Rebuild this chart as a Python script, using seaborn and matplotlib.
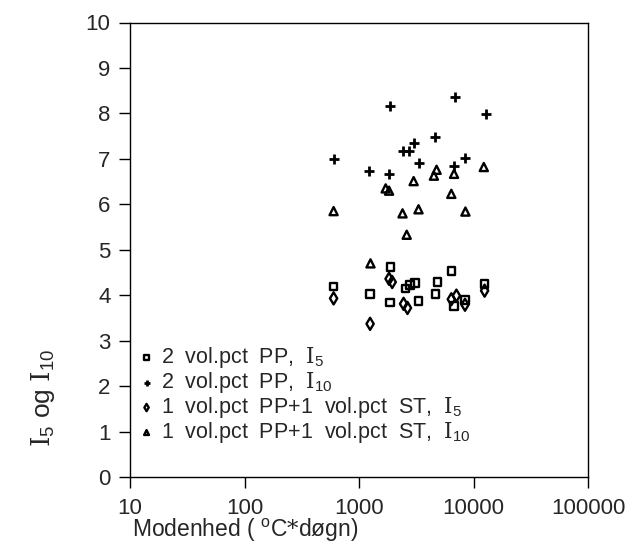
import numpy as np
import pandas as pd
import matplotlib
matplotlib.use("Agg")
import matplotlib.pyplot as plt
import seaborn as sns

# ---- data ----
pp2_i5_x = [600, 1250, 1890, 1870, 2540, 2780, 3100, 3310, 4850, 4650, 6440, 6760, 8430, 12500]
pp2_i5_y = [4.19, 4.02, 4.62, 3.84, 4.15, 4.23, 4.27, 3.87, 4.29, 4.02, 4.53, 3.76, 3.90, 4.24]

pp2_i10_x = [600, 1230, 1880, 1830, 2400, 2730, 3020, 3370, 4610, 6900, 6760, 8490, 12800]
pp2_i10_y = [7.00, 6.74, 8.17, 6.66, 7.17, 7.17, 7.34, 6.90, 7.49, 8.35, 6.85, 7.01, 7.99]

mix_i5_x = [600, 1250, 1830, 1950, 2450, 2650, 6400, 7090, 8430, 12500]
mix_i5_y = [3.93, 3.37, 4.36, 4.29, 3.81, 3.72, 3.91, 3.99, 3.79, 4.10]

mix_i10_x = [600, 1260, 1710, 1830, 2400, 2610, 3000, 3310, 4510, 4760, 6400, 6760, 8500, 12300]
mix_i10_y = [5.85, 4.70, 6.35, 6.30, 5.80, 5.33, 6.51, 5.89, 6.63, 6.76, 6.23, 6.67, 5.84, 6.82]

labels = [
    r"2  vol.pct  PP,  $\mathrm{I}_{\mathsf{5}}$",
    r"2  vol.pct  PP,  $\mathrm{I}_{\mathsf{10}}$",
    r"1  vol.pct  PP+1  vol.pct  ST,  $\mathrm{I}_{\mathsf{5}}$",
    r"1  vol.pct  PP+1  vol.pct  ST,  $\mathrm{I}_{\mathsf{10}}$",
]
x_ticks = [10, 100, 1000, 10000, 100000]
x_ticklabels = ["10", "100", "1000", "10000", "100000"]
y_ticks = list(range(0, 11))

sns.set_style("white")
plt.rcParams["font.family"] = ["Liberation Sans", "DejaVu Sans"]
plt.rcParams["mathtext.fontset"] = "custom"
plt.rcParams["mathtext.rm"] = "DejaVu Serif"
plt.rcParams["mathtext.sf"] = "Liberation Sans"

fig = plt.figure(figsize=(6.34, 5.47), dpi=100)
ax = fig.add_axes([130 / 634, 70 / 547, 458 / 634, 454.5 / 547])

series = [
    (pp2_i5_x, pp2_i5_y, "s", 30),
    (pp2_i10_x, pp2_i10_y, "+", 45),
    (mix_i5_x, mix_i5_y, "d", 38),
    (mix_i10_x, mix_i10_y, "^", 34),
]
for (xs, ys, m, s), lab in zip(series, labels):
    df = pd.DataFrame({"x": xs, "y": ys})
    if m == "+":
        sns.scatterplot(data=df, x="x", y="y", marker=m, s=s, color="black",
                        linewidth=2.0, label=lab, ax=ax)
    else:
        sns.scatterplot(data=df, x="x", y="y", marker=m, s=s, facecolor="none",
                        edgecolor="black", linewidth=1.7, label=lab, ax=ax)

ax.set_xscale("log")
ax.set_xlim(10, 100000)
ax.set_ylim(0, 10)
ax.set_xticks(x_ticks)
ax.set_xticklabels(x_ticklabels)
ax.minorticks_off()
ax.set_yticks(y_ticks)
ax.tick_params(axis="both", direction="out", length=8, width=1.0, color="black",
               labelsize=16, left=True, bottom=True)
ax.tick_params(axis="x", pad=7)
ax.tick_params(axis="y", pad=6)
for sp in ax.spines.values():
    sp.set_color("black")
    sp.set_linewidth(1.0)

ax.set_xlabel(r"Modenhed ( $\mathsf{^{o}}$C$*$døgn)", fontsize=16.5, loc="left")
ax.xaxis.set_label_coords(0.005, -0.088)
ax.set_ylabel(r"$\mathrm{I}_{\mathsf{5}}$ og $\mathrm{I}_{\mathsf{10}}$", fontsize=19)
ax.yaxis.set_label_coords(-0.16, 0.175)

leg = ax.legend(loc="lower left", bbox_to_anchor=(0.015, 0.07), frameon=False,
                fontsize=15.5, markerscale=0.6, handletextpad=0.2,
                labelspacing=0.0, borderaxespad=0.0, borderpad=0.0,
                handlelength=0.9)

fig.savefig("out.png", dpi=100)
